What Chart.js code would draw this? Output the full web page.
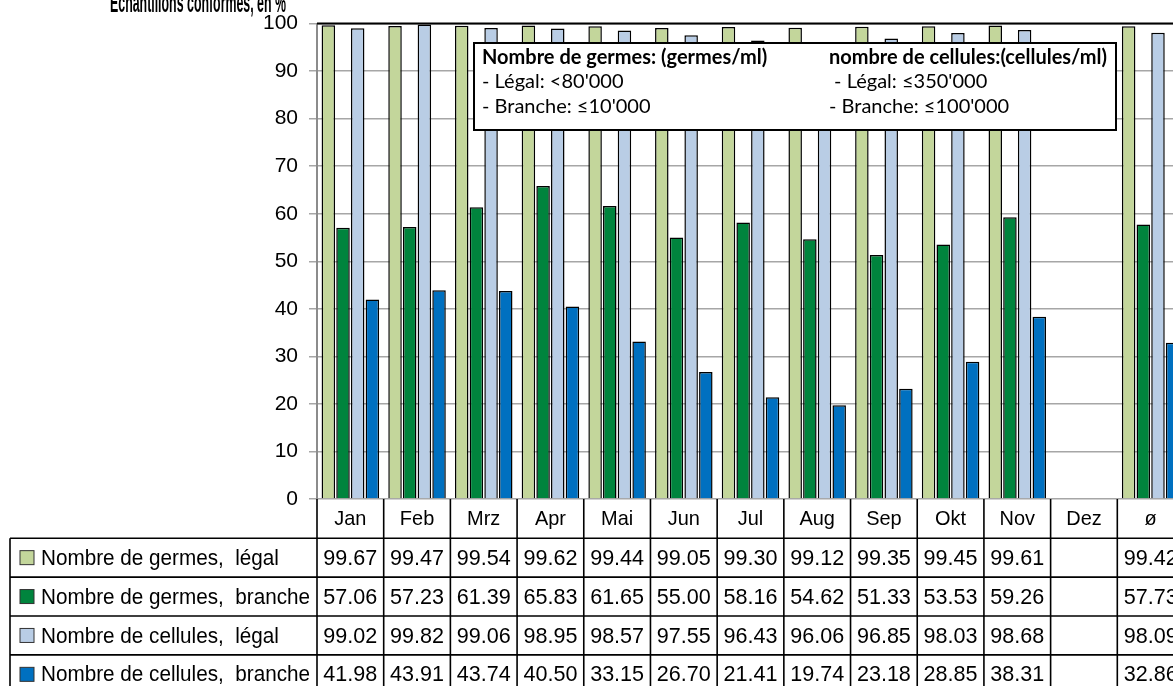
<!DOCTYPE html>
<html>
<head>
<meta charset="utf-8">
<script src="https://cdn.jsdelivr.net/npm/chart.js@4.4.0/dist/chart.umd.min.js"></script>
<style>
  html, body { margin: 0; padding: 0; background: #fff; overflow: hidden; }
  #caixa { position: absolute; left: 0; top: 0; width: 1200px; height: 686px; }
</style>
</head>
<body>
<div id="caixa"><canvas id="grafico" width="1200" height="686"></canvas></div>
<script>
// categorias (meses + media)
var meses = ['Jan', 'Feb', 'Mrz', 'Apr', 'Mai', 'Jun', 'Jul', 'Aug', 'Sep', 'Okt', 'Nov', 'Dez', 'ø'];

// valores em % (Dez ainda sem dados)
var germesLegal     = [99.67, 99.47, 99.54, 99.62, 99.44, 99.05, 99.30, 99.12, 99.35, 99.45, 99.61, null, 99.42];
var germesBranche   = [57.06, 57.23, 61.39, 65.83, 61.65, 55.00, 58.16, 54.62, 51.33, 53.53, 59.26, null, 57.73];
var cellulesLegal   = [99.02, 99.82, 99.06, 98.95, 98.57, 97.55, 96.43, 96.06, 96.85, 98.03, 98.68, null, 98.09];
var cellulesBranche = [41.98, 43.91, 43.74, 40.50, 33.15, 26.70, 21.41, 19.74, 23.18, 28.85, 38.31, null, 32.86];

// nomes das series (iguais a tabela)
var nomes = ['Nombre de germes,  légal', 'Nombre de germes,  branche', 'Nombre de cellules,  légal', 'Nombre de cellules,  branche'];

// cores parecidas com o excel
var cores = ['#c3d69b', '#00843d', '#b9cde5', '#0070c0'];

var titulo = 'Echantillons conformes, en %';

// texto da caixa (coluna da esquerda e da direita)
var caixaEsquerda = ['Nombre de germes: (germes/ml)', "- Légal: <80'000", "- Branche: ≤10'000"];
var caixaDireita  = ['nombre de cellules:(cellules/ml)', " - Légal: ≤350'000", "- Branche: ≤100'000"];

Chart.defaults.font.family = "'Liberation Sans', Arial, sans-serif";
Chart.defaults.color = '#000';

// escreve texto apertado (o excel deixa as letras bem juntas)
function escreveApertado(ctx, texto, x, y, fator) {
  var largura = ctx.measureText(texto).width;
  ctx.fillText(texto, x, y, largura * fator);
}

// desenha titulo, caixa e tabela de dados
var tabela = {
  id: 'tabela',
  afterDraw: function(chart) {
    var ctx = chart.ctx;
    var area = chart.chartArea;
    var escalaX = chart.scales.x;
    var meio = (escalaX.getPixelForValue(1) - escalaX.getPixelForValue(0)) / 2;
    var topo = area.bottom;
    var alturaCab = 39.2;
    var alturaLinha = 38.9;
    var esquerda = 10;
    var series = [germesLegal, germesBranche, cellulesLegal, cellulesBranche];

    ctx.save();

    // linha de cima do grafico
    ctx.strokeStyle = '#000';
    ctx.lineWidth = 2;
    ctx.beginPath();
    ctx.moveTo(area.left, area.top);
    ctx.lineTo(area.right + 20, area.top);
    ctx.stroke();

    // titulo (cortado em cima)
    ctx.fillStyle = '#000';
    ctx.font = "bold 28px 'Liberation Sans'";
    ctx.textAlign = 'left';
    ctx.textBaseline = 'alphabetic';
    ctx.fillText(titulo, 110, 12, 176);

    // linhas da tabela
    var fimY = topo + alturaCab + alturaLinha * 4;
    ctx.lineWidth = 1.6;
    ctx.strokeStyle = '#000';
    ctx.beginPath();
    for (var i = 0; i <= meses.length; i++) {
      var xx = escalaX.getPixelForValue(i) - meio;
      ctx.moveTo(xx, topo);
      ctx.lineTo(xx, fimY);
    }
    ctx.moveTo(esquerda, topo + alturaCab);
    ctx.lineTo(esquerda, fimY);
    for (var r = 0; r <= 4; r++) {
      var yy = topo + alturaCab + alturaLinha * r;
      ctx.moveTo(esquerda, yy);
      ctx.lineTo(area.right + 20, yy);
    }
    ctx.stroke();

    // cabecalho com os meses
    ctx.textAlign = 'center';
    ctx.textBaseline = 'middle';
    ctx.font = "21px 'Liberation Sans'";
    for (var i = 0; i < meses.length; i++) {
      escreveApertado(ctx, meses[i], escalaX.getPixelForValue(i), topo + alturaCab / 2 + 1, 0.95);
    }

    // linhas com legenda e valores
    for (var r = 0; r < 4; r++) {
      var centro = topo + alturaCab + alturaLinha * r + alturaLinha / 2 + 1;
      ctx.fillStyle = cores[r];
      ctx.fillRect(20, centro - 8, 14, 14);
      ctx.strokeStyle = '#333';
      ctx.lineWidth = 1;
      ctx.strokeRect(20, centro - 8, 14, 14);

      ctx.fillStyle = '#000';
      ctx.textAlign = 'left';
      ctx.font = "22px 'Liberation Sans'";
      escreveApertado(ctx, nomes[r], 41, centro, 0.94);

      ctx.textAlign = 'center';
      for (var i = 0; i < meses.length; i++) {
        var v = series[r][i];
        if (v === null) continue;
        escreveApertado(ctx, v.toFixed(2), escalaX.getPixelForValue(i), centro, 0.98);
      }
    }

    // caixa com os limites
    ctx.fillStyle = '#fff';
    ctx.fillRect(474, 43, 642, 87);
    ctx.strokeStyle = '#000';
    ctx.lineWidth = 2;
    ctx.strokeRect(474, 43, 642, 87);

    ctx.fillStyle = '#000';
    ctx.textAlign = 'left';
    ctx.textBaseline = 'middle';
    var linhasY = [58, 82, 107];
    for (var k = 0; k < 3; k++) {
      ctx.font = (k === 0 ? 'bold ' : '') + "20px Lato";
      ctx.fillText(caixaEsquerda[k], 482, linhasY[k]);
      ctx.fillText(caixaDireita[k], 829, linhasY[k]);
    }

    ctx.restore();
  }
};

var conjuntos = [germesLegal, germesBranche, cellulesLegal, cellulesBranche].map(function(dados, i) {
  return {
    label: nomes[i],
    data: dados,
    backgroundColor: cores[i],
    borderColor: '#000',
    borderWidth: 1.5,
    categoryPercentage: 0.88,
    barPercentage: 0.92
  };
});

new Chart(document.getElementById('grafico').getContext('2d'), {
  type: 'bar',
  data: { labels: meses, datasets: conjuntos },
  options: {
    responsive: false,
    animation: false,
    layout: { padding: { left: 0, top: 20, right: 16, bottom: 187 } },
    plugins: {
      legend: { display: false },
      tooltip: { enabled: false },
      title: { display: false }
    },
    scales: {
      x: { display: false },
      y: {
        min: 0,
        max: 100,
        ticks: { stepSize: 10, font: { size: 21 }, color: '#000', padding: 11 },
        grid: { color: '#a6a6a6', lineWidth: 1.5, tickLength: 8 },
        border: { color: '#8c8c8c', width: 2 },
        afterFit: function(escala) { escala.width = 317; }
      }
    }
  },
  plugins: [tabela]
});
</script>
</body>
</html>
